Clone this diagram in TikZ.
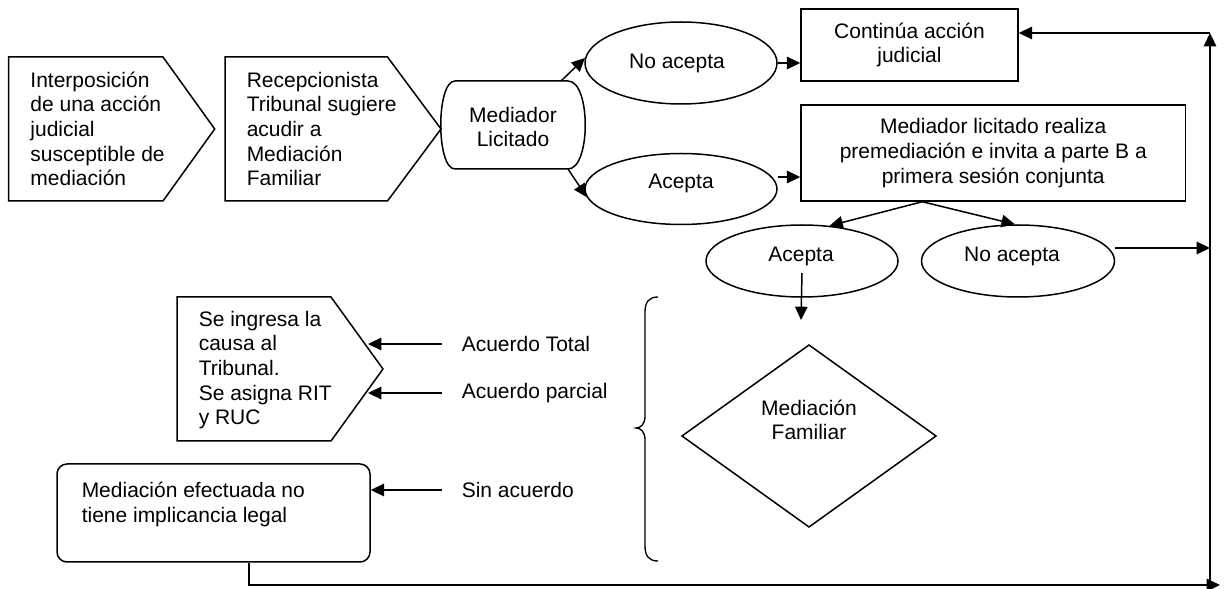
\documentclass[tikz,border=0pt]{standalone}
\usepackage{fontspec}
\setmainfont{Liberation Sans}
\usetikzlibrary{arrows.meta,shapes.geometric}
\begin{document}
\begin{tikzpicture}[x=0.6pt,y=-0.6pt, line width=0.9pt,
  every node/.style={font=\fontsize{12.6}{14.8}\selectfont, inner sep=0pt},
  arr/.style={-{Triangle[length=8pt,width=7.5pt]}},
  txt/.style={align=left, anchor=west},
  oval/.style={draw, ellipse, inner sep=0pt},
  box/.style={draw, rectangle, align=center}]
\useasboundingbox (0,0) rectangle (1227,589);

% first pentagon
\draw (8.7,57) -- (163,57) -- (214.7,129) -- (163,201) -- (8.7,201) -- cycle;
\node[txt] (interp) at (29.7,129) {Interposición\\de una acción\\judicial\\susceptible de\\mediación};

% second pentagon
\draw (225,57) -- (387.5,57) -- (441,129) -- (387.5,201) -- (225,201) -- cycle;
\node[txt] (recep) at (246,129) {Recepcionista\\Tribunal sugiere\\acudir a\\Mediación\\Familiar};

% Mediador Licitado
\draw (455,81) -- (568,81) .. controls (591,81) and (591,169) .. (568,169) -- (455,169) .. controls (436,169) and (436,81) .. (455,81) -- cycle;
\node[align=center] (med) at (513,127) {Mediador\\Licitado};
\coordinate (m1) at (561,81);
\coordinate (m2) at (568,169);

% ellipses
\node[oval, minimum width=115.2pt, minimum height=49.2pt] (na1) at (681,63) {};
\node (na1t) at (677,63) {No acepta};
\node[oval, minimum width=115.2pt, minimum height=42.6pt] (ac1) at (681,189) {};
\node (ac1t) at (681,183) {Acepta};

% boxes
\node[box, minimum width=130.2pt, minimum height=43.2pt] (cont) at (909.5,45) {Continúa acción\\judicial};
\node[box, minimum width=230.7pt, minimum height=57.6pt] (prem) at (993.25,153) {Mediador licitado realiza\\premediación e invita a parte B a\\primera sesión conjunta};

\node[oval, minimum width=115.2pt, minimum height=43.2pt] (ac2) at (802,261) {};
\node (ac2t) at (801,256) {Acepta};
\node[oval, minimum width=115.8pt, minimum height=43.2pt] (na2) at (1018,261) {};
\node (na2t) at (1012,256) {No acepta};

% Se ingresa pentagon
\draw (177,297) -- (331,297) -- (383,369) -- (331,441) -- (177,441) -- cycle;
\node[txt] (ingr) at (198,370) {Se ingresa la\\causa al\\Tribunal.\\Se asigna RIT\\y RUC};
\coordinate (tip1) at (368,344);
\coordinate (tip2) at (368,393);

% labels
\node[txt] (tot) at (461,344) {Acuerdo Total};
\node[txt] (par) at (461,393) {Acuerdo parcial};
\node[txt] (sin) at (461,490) {Sin acuerdo};

% Mediacion efectuada
\node[draw, rounded corners=6pt, minimum width=187.8pt, minimum height=58.8pt] (mef) at (213.5,513) {};
\node[txt] (meft) at (81,504.5) {Mediación efectuada no\\tiene implicancia legal};

% diamond
\draw (809,345) -- (936,436) -- (809,527) -- (682,436) -- cycle;
\node[align=center] (dia) at (809,420) {Mediación\\Familiar};
\coordinate (diaTop) at (801,320);

% brace
\draw[line width=0.8pt] (658,297) .. controls (649,297) and (645,302) .. (645,312) -- (645,416)
  .. controls (645,424) and (641,428) .. (636,428)
  .. controls (641,428) and (645,432) .. (645,440) -- (645,546)
  .. controls (645,556) and (649,561) .. (658,561);

% right line coordinates
\coordinate (Rb) at (1210,585);
\coordinate (Rt) at (1210,33);
\coordinate (bEnd) at (1220,585);

% connectors
\draw[arr] (m1) -- (na1.177);
\draw[arr] (m2) -- (ac1.185);
\draw[arr] (na1.east) -- (na1.east -| cont.west);
\draw[arr] ([yshift=7.2pt]ac1.east) -- ([yshift=7.2pt]ac1.east -| prem.west);
\draw[arr] ([xshift=-42.6pt]prem.south) -- (ac2.52);
\draw[arr] ([xshift=-42.6pt]prem.south) -- (na2.95);
\draw[arr] ([yshift=7.8pt]na2.east) -- ([yshift=7.8pt]na2.east -| Rt);
\draw[arr] (Rb) -- (Rt);
\draw[arr] (Rt) -- (Rt -| cont.east);
\draw[arr] ([yshift=-7.2pt]ac2.center) -- (diaTop);
\draw[arr] ([xshift=-11.4pt]tot.west) -- (tip1);
\draw[arr] ([xshift=-11.4pt]par.west) -- (tip2);
\draw[arr] ([xshift=-11.4pt]sin.west) -- (sin.west -| mef.east);
\draw[arr] ([xshift=21.3pt]mef.south) |- (bEnd);
\end{tikzpicture}
\end{document}
